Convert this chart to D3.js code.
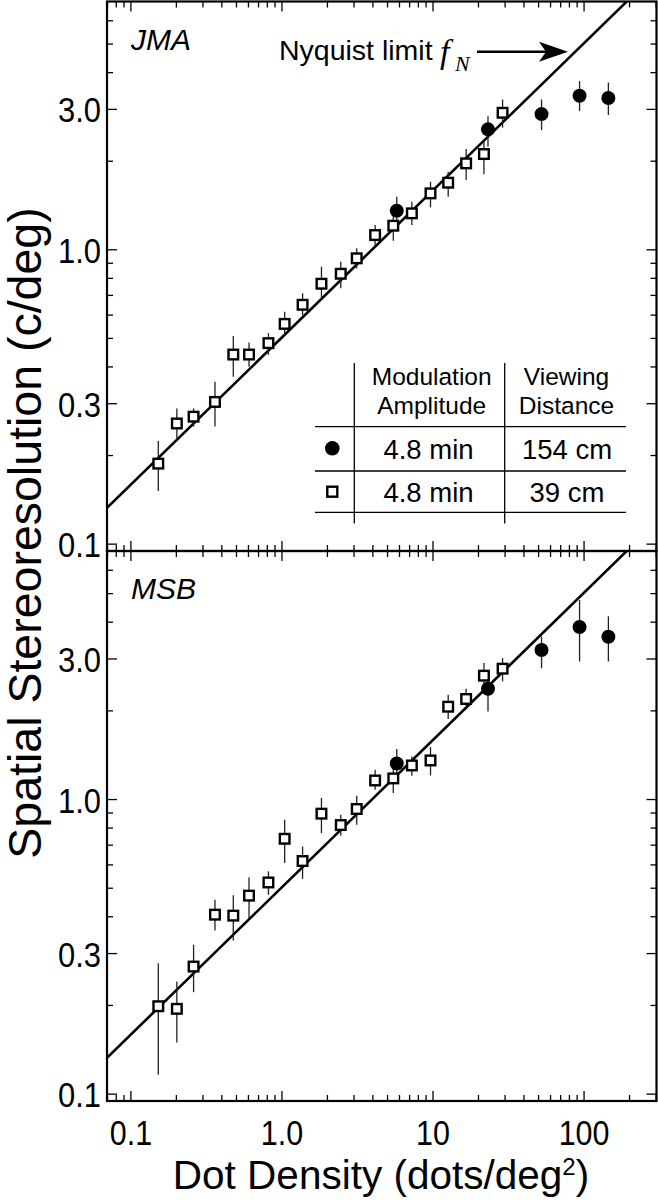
<!DOCTYPE html>
<html><head><meta charset="utf-8">
<script src="https://cdnjs.cloudflare.com/ajax/libs/d3/7.8.5/d3.min.js"></script>
<style>body{margin:0;background:#fff;} svg{display:block;}</style>
</head><body>
<svg id="chart" width="658" height="1200"></svg>
<script>
// ---- data ----
const densitySquares = [0.153, 0.203, 0.262, 0.363, 0.48, 0.61, 0.82, 1.05, 1.38, 1.84, 2.47, 3.15, 4.17, 5.5, 7.3, 9.7, 12.7, 16.7, 21.9, 29.1];
const densityCircles = [5.8, 23.3, 52.7, 94.1, 146];

const jmaSq   = [0.187, 0.256, 0.270, 0.303, 0.439, 0.439, 0.480, 0.558, 0.648, 0.764, 0.826, 0.932, 1.118, 1.203, 1.325, 1.549, 1.684, 1.959, 2.107, 2.91];
const jmaSqLo = [0.151, 0.228, 0.250, 0.250, 0.369, 0.399, 0.438, 0.512, 0.598, 0.673, 0.737, 0.860, 1.020, 1.070, 1.209, 1.389, 1.509, 1.719, 1.800, 2.59];
const jmaSqHi = [0.223, 0.288, 0.288, 0.355, 0.508, 0.482, 0.519, 0.614, 0.709, 0.873, 0.908, 1.008, 1.210, 1.310, 1.451, 1.697, 1.834, 2.191, 2.350, 3.23];
const jmaCi   = [1.352, 2.556, 2.880, 3.324, 3.265];
const jmaCiLo = [1.225, 2.230, 2.540, 2.950, 2.860];
const jmaCiHi = [1.509, 2.830, 3.230, 3.730, 3.690];

const msbSq   = [0.198, 0.194, 0.270, 0.405, 0.402, 0.470, 0.521, 0.733, 0.616, 0.892, 0.816, 0.925, 1.156, 1.175, 1.300, 1.352, 2.058, 2.186, 2.623, 2.770];
const msbSqLo = [0.116, 0.149, 0.221, 0.358, 0.331, 0.394, 0.473, 0.606, 0.536, 0.766, 0.750, 0.818, 1.075, 1.048, 1.200, 1.203, 1.868, 2.036, 2.381, 2.51];
const msbSqHi = [0.277, 0.240, 0.320, 0.455, 0.471, 0.543, 0.568, 0.851, 0.690, 1.008, 0.885, 1.026, 1.257, 1.290, 1.395, 1.502, 2.260, 2.370, 2.896, 3.01];
const msbCi   = [1.320, 2.369, 3.206, 3.837, 3.557];
const msbCiLo = [1.225, 1.984, 2.780, 2.930, 2.930];
const msbCiHi = [1.478, 2.678, 3.560, 4.740, 4.170];

const nyquistX = [0.07, 300];
const nyquistY = [0.1323, 8.66];

const xTickValues = [0.1, 1, 10, 100];
const xTickLabels = ["0.1", "1.0", "10", "100"];
const yTickValues = [0.1, 0.3, 1, 3];
const yTickLabels = ["0.1", "0.3", "1.0", "3.0"];

const panelNames = ["JMA", "MSB"];
const tableHeader1 = ["Modulation", "Amplitude"];
const tableHeader2 = ["Viewing", "Distance"];
const tableAmp = ["4.8 min", "4.8 min"];
const tableDist = ["154 cm", "39 cm"];

// ---- layout ----
const svg = d3.select("#chart");
const L = 107, R = 656.5;
const panels = [{top: 1.5, bottom: 551}, {top: 551, bottom: 1101}];
const FONT = "'Liberation Sans', Arial, Helvetica, sans-serif";

const x = d3.scaleLog().domain([0.07, 304]).range([L, R]);

function minorTicks(domain, exclude) {
  const out = [];
  for (let e = -3; e <= 3; e++) {
    for (let k = 1; k <= 9; k++) {
      const v = +(k * Math.pow(10, e)).toPrecision(6);
      if (v >= domain[0] && v <= domain[1] && !exclude.some(m => Math.abs(m - v) / v < 1e-6)) out.push(v);
    }
  }
  return out;
}
const xMinor = minorTicks(x.domain(), xTickValues);

const datasets = [
  {sq: jmaSq, sqLo: jmaSqLo, sqHi: jmaSqHi, ci: jmaCi, ciLo: jmaCiLo, ciHi: jmaCiHi},
  {sq: msbSq, sqLo: msbSqLo, sqHi: msbSqHi, ci: msbCi, ciLo: msbCiLo, ciHi: msbCiHi}
];

function styleAxis(g) {
  g.select(".domain").remove();
  g.selectAll(".tick line").attr("stroke", "#000").attr("stroke-width", 1.3);
}

panels.forEach((p, i) => {
  const y = d3.scaleLog().domain([0.0944, 6.95]).range([p.bottom, p.top]);
  const yMinor = minorTicks(y.domain(), yTickValues);
  const g = svg.append("g");

  const clipId = "clip" + i;
  svg.append("clipPath").attr("id", clipId).append("rect")
    .attr("x", L).attr("y", p.top).attr("width", R - L).attr("height", p.bottom - p.top);

  // left
  g.append("g").attr("transform", `translate(${L},0)`)
    .call(d3.axisLeft(y).tickValues(yTickValues).tickFormat((d, j) => yTickLabels[j]).tickSizeInner(-10).tickSizeOuter(0).tickPadding(7))
    .call(styleAxis)
    .call(a => a.selectAll("text").attr("font-family", FONT).attr("font-size", 36).attr("fill", "#000")
      .attr("transform", "scale(0.86,1)").attr("dy", "0.36em"));
  g.append("g").attr("transform", `translate(${L},0)`)
    .call(d3.axisLeft(y).tickValues(yMinor).tickFormat("").tickSizeInner(-6).tickSizeOuter(0))
    .call(styleAxis);
  // right
  g.append("g").attr("transform", `translate(${R},0)`)
    .call(d3.axisRight(y).tickValues(yTickValues).tickFormat("").tickSizeInner(-10).tickSizeOuter(0))
    .call(styleAxis);
  g.append("g").attr("transform", `translate(${R},0)`)
    .call(d3.axisRight(y).tickValues(yMinor).tickFormat("").tickSizeInner(-6).tickSizeOuter(0))
    .call(styleAxis);
  // top
  g.append("g").attr("transform", `translate(0,${p.top})`)
    .call(d3.axisTop(x).tickValues(xTickValues).tickFormat("").tickSizeInner(-10).tickSizeOuter(0))
    .call(styleAxis);
  g.append("g").attr("transform", `translate(0,${p.top})`)
    .call(d3.axisTop(x).tickValues(xMinor).tickFormat("").tickSizeInner(-6).tickSizeOuter(0))
    .call(styleAxis);
  // bottom
  g.append("g").attr("transform", `translate(0,${p.bottom})`)
    .call(d3.axisBottom(x).tickValues(xTickValues).tickFormat((d, j) => i === 1 ? xTickLabels[j] : "").tickSizeInner(-10).tickSizeOuter(0).tickPadding(19))
    .call(styleAxis)
    .call(a => a.selectAll("text").attr("font-family", FONT).attr("font-size", 35).attr("fill", "#000")
      .attr("transform", "scale(0.87,1)").attr("dy", "0.71em"));
  g.append("g").attr("transform", `translate(0,${p.bottom})`)
    .call(d3.axisBottom(x).tickValues(xMinor).tickFormat("").tickSizeInner(-6).tickSizeOuter(0))
    .call(styleAxis);

  // frame
  g.append("rect").attr("x", L).attr("y", p.top).attr("width", R - L).attr("height", p.bottom - p.top)
    .attr("fill", "none").attr("stroke", "#000").attr("stroke-width", 2.2);

  // Nyquist line
  const line = d3.line().x(d => x(d[0])).y(d => y(d[1]));
  g.append("path").datum(nyquistX.map((v, j) => [v, nyquistY[j]]))
    .attr("d", line).attr("clip-path", `url(#${clipId})`)
    .attr("fill", "none").attr("stroke", "#000").attr("stroke-width", 2.6);

  const ds = datasets[i];
  const eb = g.append("g").attr("stroke", "#222").attr("stroke-width", 1.3);
  densitySquares.forEach((d, j) => {
    eb.append("line").attr("x1", x(d)).attr("x2", x(d)).attr("y1", y(ds.sqLo[j])).attr("y2", y(ds.sqHi[j]));
  });
  densityCircles.forEach((d, j) => {
    eb.append("line").attr("x1", x(d)).attr("x2", x(d)).attr("y1", y(ds.ciLo[j])).attr("y2", y(ds.ciHi[j]));
  });
  g.append("g").selectAll("circle").data(densityCircles).join("circle")
    .attr("cx", d => x(d)).attr("cy", (d, j) => y(ds.ci[j])).attr("r", 7).attr("fill", "#000");
  g.append("g").selectAll("rect").data(densitySquares).join("rect")
    .attr("x", d => x(d) - 4.8).attr("y", (d, j) => y(ds.sq[j]) - 4.8)
    .attr("width", 9.6).attr("height", 9.6)
    .attr("fill", "#fff").attr("stroke", "#000").attr("stroke-width", 2.4);

  g.append("text").attr("x", 131).attr("y", p.top + 48)
    .attr("font-family", FONT).attr("font-style", "italic").attr("font-size", 30).text(panelNames[i]);
});

// Nyquist annotation
const ann = svg.append("g");
ann.append("text").attr("x", 279).attr("y", 60).attr("font-family", FONT).attr("font-size", 28.5).text("Nyquist limit");
ann.append("text").attr("x", 440).attr("y", 63).attr("font-family", "'Liberation Serif', 'Times New Roman', serif")
  .attr("font-style", "italic").attr("font-size", 34).text("f");
ann.append("text").attr("x", 455).attr("y", 71).attr("font-family", "'Liberation Serif', 'Times New Roman', serif")
  .attr("font-style", "italic").attr("font-size", 22).text("N");
ann.append("line").attr("x1", 477).attr("x2", 548).attr("y1", 51.7).attr("y2", 51.7).attr("stroke", "#000").attr("stroke-width", 2.4);
ann.append("path").attr("d", "M568,51.7 L539,41.7 L546,51.7 L539,61.7 Z").attr("fill", "#000");

// Inset table
const tb = svg.append("g").attr("stroke", "#000").attr("stroke-width", 1.3);
[354.3, 504.7].forEach(vx => tb.append("line").attr("x1", vx).attr("x2", vx).attr("y1", 363).attr("y2", 523.5));
[426.7, 471, 512.3].forEach(hy => tb.append("line").attr("x1", 315).attr("x2", 626).attr("y1", hy).attr("y2", hy));
const tt = svg.append("g").attr("font-family", FONT).attr("text-anchor", "middle").attr("fill", "#000");
tableHeader1.forEach((t, j) => tt.append("text").attr("x", 431.7).attr("y", 385 + j * 29).attr("font-size", 24.5).text(t));
tableHeader2.forEach((t, j) => tt.append("text").attr("x", 566.5).attr("y", 385 + j * 29).attr("font-size", 24.5).text(t));
tableAmp.forEach((t, j) => tt.append("text").attr("x", 428.5).attr("y", 459 + j * 42.5).attr("font-size", 27.5).text(t));
tableDist.forEach((t, j) => tt.append("text").attr("x", 567).attr("y", 459 + j * 42.5).attr("font-size", 27.5).text(t));
svg.append("circle").attr("cx", 332.3).attr("cy", 448.3).attr("r", 7.3).attr("fill", "#000");
svg.append("rect").attr("x", 332.3 - 5).attr("y", 491.7 - 5).attr("width", 10).attr("height", 10)
  .attr("fill", "#fff").attr("stroke", "#000").attr("stroke-width", 2.4);

// axis titles
const xt = svg.append("text").attr("x", 381).attr("y", 1189).attr("text-anchor", "middle")
  .attr("font-family", FONT).attr("font-size", 40.5).attr("fill", "#000");
xt.append("tspan").text("Dot Density (dots/deg");
xt.append("tspan").attr("font-size", 24).attr("dy", -14).text("2");
xt.append("tspan").attr("dy", 14).text(")");

svg.append("text").attr("transform", "translate(41,533) rotate(-90)").attr("text-anchor", "middle")
  .attr("font-family", FONT).attr("font-size", 46.5).attr("fill", "#000")
  .text("Spatial Stereoresolution (c/deg)");
</script>
</body></html>
